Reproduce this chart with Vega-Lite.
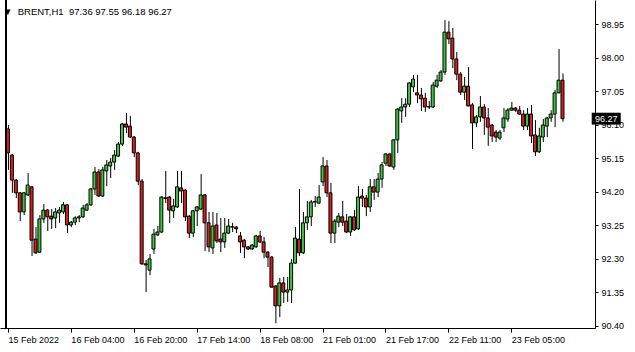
{
  "$schema": "https://vega.github.io/schema/vega-lite/v6.json",
  "width": 595,
  "height": 328,
  "autosize": {"type": "none"},
  "padding": {"left": 0, "top": 0, "right": 40, "bottom": 24},
  "background": "white",
  "config": {
    "view": {"stroke": null},
    "font": "Liberation Sans",
    "axis": {"grid": false, "domainColor": "black", "tickColor": "black", "labelColor": "black", "labelFont": "Liberation Sans", "labelFontSize": 9, "title": null, "labelOverlap": false, "labelFlush": false, "labelBound": false}
  },
  "title": {
    "text": "▼\u00a0\u00a0BRENT,H1\u00a0\u00a097.36 97.55 96.18 96.27",
    "anchor": "start", "frame": "group", "orient": "top", "offset": -14, "baseline": "alphabetic",
    "dx": 3, "dy": 11, "fontSize": 9.5, "fontWeight": "normal", "color": "black", "font": "Liberation Sans"
  },
  "data": {"values": [
    {"i":0,"o":95.98,"h":96.09,"l":94.82,"c":95.30},
    {"i":1,"o":95.24,"h":95.27,"l":94.17,"c":94.53},
    {"i":2,"o":94.53,"h":94.56,"l":94.02,"c":94.17},
    {"i":3,"o":94.17,"h":94.19,"l":93.37,"c":93.63},
    {"i":4,"o":93.63,"h":94.19,"l":93.54,"c":94.17},
    {"i":5,"o":94.11,"h":94.73,"l":94.08,"c":94.39},
    {"i":6,"o":94.34,"h":94.36,"l":92.38,"c":92.83},
    {"i":7,"o":92.86,"h":93.20,"l":92.44,"c":92.47},
    {"i":8,"o":92.49,"h":93.54,"l":92.47,"c":93.43},
    {"i":9,"o":93.43,"h":93.85,"l":93.32,"c":93.68},
    {"i":10,"o":93.68,"h":93.71,"l":93.09,"c":93.49},
    {"i":11,"o":93.51,"h":93.71,"l":93.15,"c":93.43},
    {"i":12,"o":93.46,"h":93.74,"l":93.17,"c":93.63},
    {"i":13,"o":93.60,"h":93.77,"l":93.32,"c":93.68},
    {"i":14,"o":93.63,"h":93.91,"l":93.57,"c":93.83},
    {"i":15,"o":93.83,"h":93.85,"l":93.03,"c":93.26},
    {"i":16,"o":93.26,"h":93.37,"l":93.20,"c":93.34},
    {"i":17,"o":93.34,"h":93.51,"l":93.26,"c":93.46},
    {"i":18,"o":93.46,"h":93.54,"l":93.34,"c":93.49},
    {"i":19,"o":93.49,"h":93.83,"l":93.46,"c":93.74},
    {"i":20,"o":93.68,"h":93.88,"l":93.66,"c":93.83},
    {"i":21,"o":93.83,"h":94.31,"l":93.80,"c":94.28},
    {"i":22,"o":94.28,"h":94.90,"l":94.11,"c":94.76},
    {"i":23,"o":94.76,"h":94.84,"l":94.05,"c":94.08},
    {"i":24,"o":94.08,"h":94.90,"l":94.05,"c":94.82},
    {"i":25,"o":94.79,"h":95.10,"l":94.36,"c":94.96},
    {"i":26,"o":94.93,"h":95.16,"l":94.59,"c":95.04},
    {"i":27,"o":95.04,"h":95.38,"l":94.82,"c":95.24},
    {"i":28,"o":95.21,"h":95.61,"l":95.18,"c":95.55},
    {"i":29,"o":95.55,"h":96.15,"l":95.50,"c":96.12},
    {"i":30,"o":96.12,"h":96.43,"l":95.86,"c":96.03},
    {"i":31,"o":96.06,"h":96.35,"l":95.72,"c":95.75},
    {"i":32,"o":95.75,"h":95.78,"l":95.18,"c":95.30},
    {"i":33,"o":95.30,"h":95.33,"l":94.39,"c":94.50},
    {"i":34,"o":94.50,"h":94.56,"l":92.13,"c":92.16},
    {"i":35,"o":92.16,"h":92.27,"l":91.36,"c":92.13},
    {"i":36,"o":91.98,"h":92.44,"l":91.84,"c":92.30},
    {"i":37,"o":92.58,"h":93.15,"l":92.44,"c":93.00},
    {"i":38,"o":92.98,"h":93.23,"l":92.95,"c":93.06},
    {"i":39,"o":93.06,"h":94.08,"l":93.03,"c":94.05},
    {"i":40,"o":94.03,"h":94.79,"l":93.88,"c":94.01},
    {"i":41,"o":94.05,"h":94.08,"l":93.32,"c":93.68},
    {"i":42,"o":93.66,"h":94.00,"l":93.46,"c":93.80},
    {"i":43,"o":93.77,"h":94.79,"l":93.74,"c":94.34},
    {"i":44,"o":94.31,"h":94.79,"l":93.88,"c":94.22},
    {"i":45,"o":94.25,"h":94.28,"l":93.37,"c":93.49},
    {"i":46,"o":93.51,"h":93.54,"l":92.89,"c":93.03},
    {"i":47,"o":93.03,"h":93.68,"l":92.92,"c":93.66},
    {"i":48,"o":93.66,"h":93.80,"l":93.23,"c":93.77},
    {"i":49,"o":93.71,"h":94.70,"l":93.68,"c":94.11},
    {"i":50,"o":94.11,"h":94.14,"l":92.52,"c":93.32},
    {"i":51,"o":93.32,"h":93.63,"l":92.49,"c":92.64},
    {"i":52,"o":92.61,"h":93.63,"l":92.44,"c":93.23},
    {"i":53,"o":93.26,"h":93.60,"l":92.75,"c":92.81},
    {"i":54,"o":92.86,"h":93.46,"l":92.49,"c":92.78},
    {"i":55,"o":92.78,"h":93.46,"l":92.61,"c":93.03},
    {"i":56,"o":93.03,"h":93.43,"l":93.00,"c":93.23},
    {"i":57,"o":93.21,"h":93.32,"l":93.06,"c":93.20},
    {"i":58,"o":93.20,"h":93.23,"l":93.03,"c":93.15},
    {"i":59,"o":92.95,"h":93.06,"l":92.47,"c":92.78},
    {"i":60,"o":92.83,"h":92.86,"l":92.32,"c":92.64},
    {"i":61,"o":92.64,"h":92.66,"l":92.55,"c":92.58},
    {"i":62,"o":92.58,"h":92.72,"l":92.55,"c":92.69},
    {"i":63,"o":92.64,"h":92.98,"l":92.61,"c":92.95},
    {"i":64,"o":92.95,"h":93.09,"l":92.75,"c":92.78},
    {"i":65,"o":92.78,"h":92.92,"l":92.32,"c":92.49},
    {"i":66,"o":92.49,"h":92.52,"l":92.07,"c":92.35},
    {"i":67,"o":92.35,"h":92.38,"l":91.48,"c":91.50},
    {"i":68,"o":91.53,"h":91.56,"l":90.48,"c":90.97},
    {"i":69,"o":90.97,"h":91.76,"l":90.65,"c":91.62},
    {"i":70,"o":91.62,"h":91.79,"l":91.05,"c":91.36},
    {"i":71,"o":91.36,"h":91.79,"l":91.08,"c":91.42},
    {"i":72,"o":91.42,"h":92.30,"l":91.05,"c":92.18},
    {"i":73,"o":92.18,"h":93.20,"l":92.16,"c":92.89},
    {"i":74,"o":92.86,"h":94.28,"l":92.38,"c":92.47},
    {"i":75,"o":92.47,"h":93.63,"l":92.44,"c":93.32},
    {"i":76,"o":93.32,"h":93.94,"l":93.12,"c":93.49},
    {"i":77,"o":93.49,"h":93.97,"l":93.23,"c":93.91},
    {"i":78,"o":93.92,"h":94.08,"l":93.77,"c":93.91},
    {"i":79,"o":93.88,"h":94.39,"l":93.85,"c":94.05},
    {"i":80,"o":94.48,"h":95.18,"l":94.36,"c":94.93},
    {"i":81,"o":94.93,"h":95.10,"l":94.05,"c":94.17},
    {"i":82,"o":94.17,"h":94.45,"l":92.75,"c":93.03},
    {"i":83,"o":93.03,"h":93.43,"l":92.75,"c":93.37},
    {"i":84,"o":93.34,"h":93.60,"l":93.20,"c":93.51},
    {"i":85,"o":93.49,"h":93.94,"l":93.23,"c":93.34},
    {"i":86,"o":93.37,"h":93.57,"l":93.03,"c":93.06},
    {"i":87,"o":93.06,"h":93.51,"l":92.95,"c":93.49},
    {"i":88,"o":93.49,"h":93.68,"l":93.09,"c":93.12},
    {"i":89,"o":93.15,"h":94.36,"l":93.12,"c":94.05},
    {"i":90,"o":94.08,"h":94.28,"l":93.77,"c":94.02},
    {"i":91,"o":94.02,"h":94.11,"l":93.51,"c":93.77},
    {"i":92,"o":93.77,"h":94.56,"l":93.63,"c":94.34},
    {"i":93,"o":94.34,"h":94.56,"l":93.97,"c":94.19},
    {"i":94,"o":94.19,"h":94.73,"l":94.05,"c":94.56},
    {"i":95,"o":94.56,"h":95.04,"l":94.31,"c":94.96},
    {"i":96,"o":95.01,"h":95.30,"l":94.93,"c":95.27},
    {"i":97,"o":95.27,"h":95.30,"l":94.90,"c":94.93},
    {"i":98,"o":94.90,"h":95.69,"l":94.82,"c":95.67},
    {"i":99,"o":95.67,"h":96.57,"l":95.30,"c":96.54},
    {"i":100,"o":96.49,"h":96.85,"l":96.15,"c":96.60},
    {"i":101,"o":96.60,"h":96.85,"l":96.32,"c":96.68},
    {"i":102,"o":96.68,"h":97.31,"l":96.60,"c":97.28},
    {"i":103,"o":97.17,"h":97.51,"l":97.02,"c":97.39},
    {"i":104,"o":97.00,"h":97.51,"l":96.71,"c":96.94},
    {"i":105,"o":96.94,"h":97.14,"l":96.49,"c":96.83},
    {"i":106,"o":96.85,"h":97.00,"l":96.46,"c":96.60},
    {"i":107,"o":96.61,"h":96.77,"l":96.54,"c":96.60},
    {"i":108,"o":96.60,"h":97.31,"l":96.57,"c":97.22},
    {"i":109,"o":97.19,"h":97.51,"l":97.14,"c":97.36},
    {"i":110,"o":97.34,"h":97.65,"l":97.31,"c":97.59},
    {"i":111,"o":97.59,"h":99.06,"l":97.51,"c":98.72},
    {"i":112,"o":98.72,"h":99.03,"l":98.38,"c":98.53},
    {"i":113,"o":98.55,"h":98.84,"l":97.70,"c":97.96},
    {"i":114,"o":97.96,"h":98.16,"l":97.36,"c":97.53},
    {"i":115,"o":97.53,"h":97.59,"l":96.94,"c":97.02},
    {"i":116,"o":97.02,"h":97.45,"l":96.80,"c":97.19},
    {"i":117,"o":97.19,"h":97.73,"l":96.62,"c":96.63},
    {"i":118,"o":96.66,"h":96.71,"l":95.41,"c":96.15},
    {"i":119,"o":96.15,"h":96.37,"l":96.03,"c":96.32},
    {"i":120,"o":96.32,"h":96.91,"l":96.18,"c":96.60},
    {"i":121,"o":96.60,"h":96.68,"l":95.81,"c":96.29},
    {"i":122,"o":96.29,"h":96.57,"l":95.50,"c":96.03},
    {"i":123,"o":96.09,"h":96.12,"l":95.61,"c":95.78},
    {"i":124,"o":95.89,"h":95.95,"l":95.61,"c":95.75},
    {"i":125,"o":95.72,"h":95.95,"l":95.67,"c":95.89},
    {"i":126,"o":96.01,"h":96.57,"l":95.89,"c":96.29},
    {"i":127,"o":96.26,"h":96.57,"l":96.18,"c":96.51},
    {"i":128,"o":96.51,"h":96.74,"l":96.49,"c":96.57},
    {"i":129,"o":96.57,"h":96.60,"l":96.46,"c":96.51},
    {"i":130,"o":96.51,"h":96.63,"l":96.37,"c":96.40},
    {"i":131,"o":96.40,"h":96.51,"l":95.95,"c":96.06},
    {"i":132,"o":96.06,"h":96.57,"l":95.95,"c":96.40},
    {"i":133,"o":96.40,"h":96.66,"l":95.58,"c":95.78},
    {"i":134,"o":95.81,"h":96.23,"l":95.21,"c":95.33},
    {"i":135,"o":95.33,"h":96.01,"l":95.30,"c":95.78},
    {"i":136,"o":95.75,"h":96.26,"l":95.61,"c":96.09},
    {"i":137,"o":96.06,"h":96.32,"l":95.75,"c":96.29},
    {"i":138,"o":96.29,"h":96.51,"l":96.18,"c":96.40},
    {"i":139,"o":96.40,"h":97.08,"l":96.03,"c":97.00},
    {"i":140,"o":97.00,"h":98.24,"l":96.99,"c":97.36},
    {"i":141,"o":97.36,"h":97.55,"l":96.18,"c":96.27}
  ]},
  "layer": [
    {
      "mark": {"type": "rule", "color": "black", "strokeWidth": 1},
      "encoding": {
        "x": {"field": "i", "type": "quantitative", "scale": {"domain": [-0.75, 148], "nice": false, "zero": false},
              "axis": {"orient": "bottom", "title": null, "values": [0,16,32,48,64,80,96,112,128], "tickCount": 30,
                       "labelExpr": "datum.value == 0 ? '15 Feb 2022' : datum.value == 16 ? '16 Feb 04:00' : datum.value == 32 ? '16 Feb 20:00' : datum.value == 48 ? '17 Feb 14:00' : datum.value == 64 ? '18 Feb 08:00' : datum.value == 80 ? '21 Feb 01:00' : datum.value == 96 ? '21 Feb 17:00' : datum.value == 112 ? '22 Feb 11:00' : '23 Feb 05:00'",
                       "tickSize": 4, "labelAlign": "left", "labelBaseline": "top", "labelPadding": 3, "labelFlush": false, "labelOverlap": false, "labelBound": false}},
        "xOffset": {"value": 0.5},
        "y": {"field": "l", "type": "quantitative", "scale": {"domain": [90.343, 99.6295], "nice": false, "zero": false},
              "axis": {"orient": "right", "title": null, "values": [90.40,91.35,92.30,93.25,94.20,95.15,96.10,97.05,98.00,98.95], "tickCount": 30,
                       "format": ".2f", "tickSize": 3, "labelPadding": 3, "labelBaseline": "middle", "labelFlush": false, "labelOverlap": false, "labelBound": false}},
        "y2": {"field": "h"}
      }
    },
    {
      "mark": {"type": "bar", "width": 3, "stroke": "black", "strokeWidth": 1, "orient": "vertical"},
      "encoding": {
        "x": {"field": "i", "type": "quantitative"},
        "y": {"field": "o", "type": "quantitative"},
        "y2": {"field": "c"},
        "color": {"condition": {"test": "datum.c >= datum.o", "value": "#3CC83C"}, "value": "#D81E1E"}
      }
    },
    {
      "mark": {"type": "rule", "color": "black", "strokeWidth": 1},
      "encoding": {"x": {"datum": -0.375, "type": "quantitative"}}
    },
    {
      "data": {"values": [{"price": 96.27}]},
      "mark": {"type": "point", "shape": "M-1,-0.41L1,-0.41L1,0.41L-1,0.41Z", "size": 841, "filled": true, "color": "black", "opacity": 1},
      "encoding": {"x": {"datum": 152.125, "type": "quantitative"}, "y": {"field": "price", "type": "quantitative"}}
    },
    {
      "data": {"values": [{"price": 96.27}]},
      "mark": {"type": "text", "color": "white", "fontSize": 9, "font": "Liberation Sans", "align": "center", "baseline": "middle"},
      "encoding": {"x": {"datum": 152.125, "type": "quantitative"}, "y": {"field": "price", "type": "quantitative"}, "text": {"field": "price", "type": "quantitative", "format": ".2f"}}
    }
  ]
}
